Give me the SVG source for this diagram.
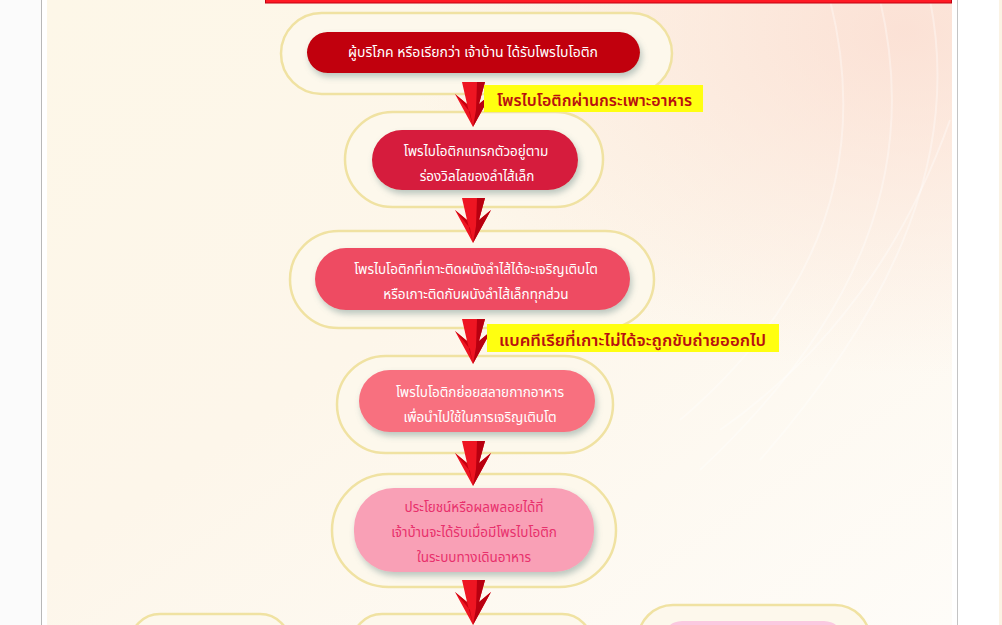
<svg xmlns="http://www.w3.org/2000/svg" width="1002" height="625" viewBox="0 0 1002 625">
<defs>
<linearGradient id="bg" x1="0" y1="0" x2="1" y2="1">
<stop offset="0" stop-color="#fdf7e8"/>
<stop offset="0.45" stop-color="#fdf6ea"/>
<stop offset="1" stop-color="#fefcf8"/>
</linearGradient>
<radialGradient id="pink" cx="0.95" cy="0.05" r="0.55">
<stop offset="0" stop-color="#fbdcd0" stop-opacity="0.8"/>
<stop offset="1" stop-color="#fbe0d4" stop-opacity="0"/>
</radialGradient>
<filter id="sh" x="-10%" y="-20%" width="120%" height="160%">
<feDropShadow dx="2" dy="4" stdDeviation="3" flood-color="#6a8a88" flood-opacity="0.45"/>
</filter>
<g id="arrow">
<polygon points="-11,0 12,0 6,22 18,12 0,45 -18,12 -6,22" fill="#ee1522"/>
<polygon points="0,45 18,12 6,22 12,0 4,0 3,28" fill="#b80010"/>
<polygon points="-18,12 -6,22 0,45 -3,30" fill="#c8000e"/>
</g>
</defs>
<style>
.outer{fill:#fdf8ec;stroke:#f0e2a2;stroke-width:2.5}
.t{font-family:"Noto Sans Thai","Noto Sans","DejaVu Sans",sans-serif;font-size:13.5px;text-anchor:middle}
.w{fill:#ffffff}
.lbl{font-family:"Noto Sans Thai","Noto Sans","DejaVu Sans",sans-serif;font-size:15.5px;fill:#b81010;font-weight:600}
.hl{fill:#ffff10}
</style>
<rect x="0" y="0" width="1002" height="625" fill="#ffffff"/>
<rect x="0" y="0" width="41" height="625" fill="#fbfbfb"/>
<line x1="41.5" y1="0" x2="41.5" y2="625" stroke="#b8b8b8" stroke-width="1"/>
<line x1="957.5" y1="0" x2="957.5" y2="625" stroke="#c4c4c4" stroke-width="1"/>
<rect x="999" y="0" width="3" height="625" fill="#fbf3e4"/>
<rect x="47" y="0" width="905" height="625" fill="url(#bg)"/>
<rect x="47" y="0" width="905" height="625" fill="url(#pink)"/>
<g fill="none" stroke="#ffffff" stroke-opacity="0.35" stroke-width="2">
<path d="M930,0 C960,150 900,300 760,460"/>
<path d="M880,0 C920,170 860,320 700,470"/>
<path d="M830,0 C870,160 820,300 680,420"/>
<path d="M950,120 C900,260 820,360 720,430"/>
</g>
<rect x="265.5" y="-2" width="686" height="5" fill="#ff1a24" stroke="#c00010" stroke-width="1"/>

<g id="node1">
<rect class="outer" x="281" y="13" width="391" height="81" rx="40.5"/>
<rect x="307" y="32" width="333" height="41" rx="20.5" fill="#c1000c" filter="url(#sh)"/>
<text class="t w" x="473" y="57" textLength="250" lengthAdjust="spacingAndGlyphs">ผู้บริโภค หรือเรียกว่า เจ้าบ้าน ได้รับโพรไบโอติก</text>
</g>
<g id="node2">
<rect class="outer" x="345" y="112" width="258" height="95" rx="47.5"/>
<rect x="372" y="130" width="206" height="60" rx="30" fill="#d61e3c" filter="url(#sh)"/>
<text class="t w" x="476" y="156">โพรไบโอติกแทรกตัวอยู่ตาม</text>
<text class="t w" x="477" y="181">ร่องวิลไลของลำไส้เล็ก</text>
</g>
<g id="node3">
<rect class="outer" x="290" y="231" width="364" height="97" rx="48.5"/>
<rect x="315" y="248" width="315" height="62" rx="31" fill="#ee4b62" filter="url(#sh)"/>
<text class="t w" x="476" y="274">โพรไบโอติกที่เกาะติดผนังลำไส้ได้จะเจริญเติบโต</text>
<text class="t w" x="476" y="299">หรือเกาะติดกับผนังลำไส้เล็กทุกส่วน</text>
</g>
<g id="node4">
<rect class="outer" x="337" y="356" width="276" height="97" rx="48.5"/>
<rect x="359" y="370" width="236" height="62" rx="31" fill="#f8707f" filter="url(#sh)"/>
<text class="t w" x="480" y="397">โพรไบโอติกย่อยสลายกากอาหาร</text>
<text class="t w" x="480" y="422">เพื่อนำไปใช้ในการเจริญเติบโต</text>
</g>
<g id="node5">
<rect class="outer" x="332" y="474" width="284" height="113" rx="56.5"/>
<rect x="354" y="488" width="240" height="84" rx="40" fill="#f9a0b6" filter="url(#sh)"/>
<text class="t" fill="#e8306c" x="474" y="512">ประโยชน์หรือผลพลอยได้ที่</text>
<text class="t" fill="#e8306c" x="474" y="537">เจ้าบ้านจะได้รับเมื่อมีโพรไบโอติก</text>
<text class="t" fill="#e8306c" x="474" y="562">ในระบบทางเดินอาหาร</text>
</g>
<g id="node6">
<rect class="outer" x="130" y="614" width="160" height="60" rx="30"/>
</g>
<g id="node7">
<rect class="outer" x="352" y="614" width="240" height="60" rx="30"/>
</g>
<g id="node8">
<rect class="outer" x="638" y="605" width="232" height="70" rx="35"/>
<rect x="662" y="621" width="182" height="40" rx="20" fill="#fbc8e0"/>
</g>

<g id="connectors">
<use href="#arrow" x="473" y="82"/>
<use href="#arrow" x="473" y="198"/>
<use href="#arrow" x="473" y="319"/>
<use href="#arrow" x="473" y="441"/>
<use href="#arrow" x="473" y="580"/>
<g id="label1">
<rect class="hl" x="484" y="85" width="219" height="27"/>
<text class="lbl" x="497" y="106" textLength="195" lengthAdjust="spacingAndGlyphs">โพรไบโอติกผ่านกระเพาะอาหาร</text>
</g>
<g id="label2">
<rect class="hl" x="487" y="324" width="292" height="28"/>
<text class="lbl" x="499" y="346" textLength="267" lengthAdjust="spacingAndGlyphs">แบคทีเรียที่เกาะไม่ได้จะถูกขับถ่ายออกไป</text>
</g>
</g>
</svg>
